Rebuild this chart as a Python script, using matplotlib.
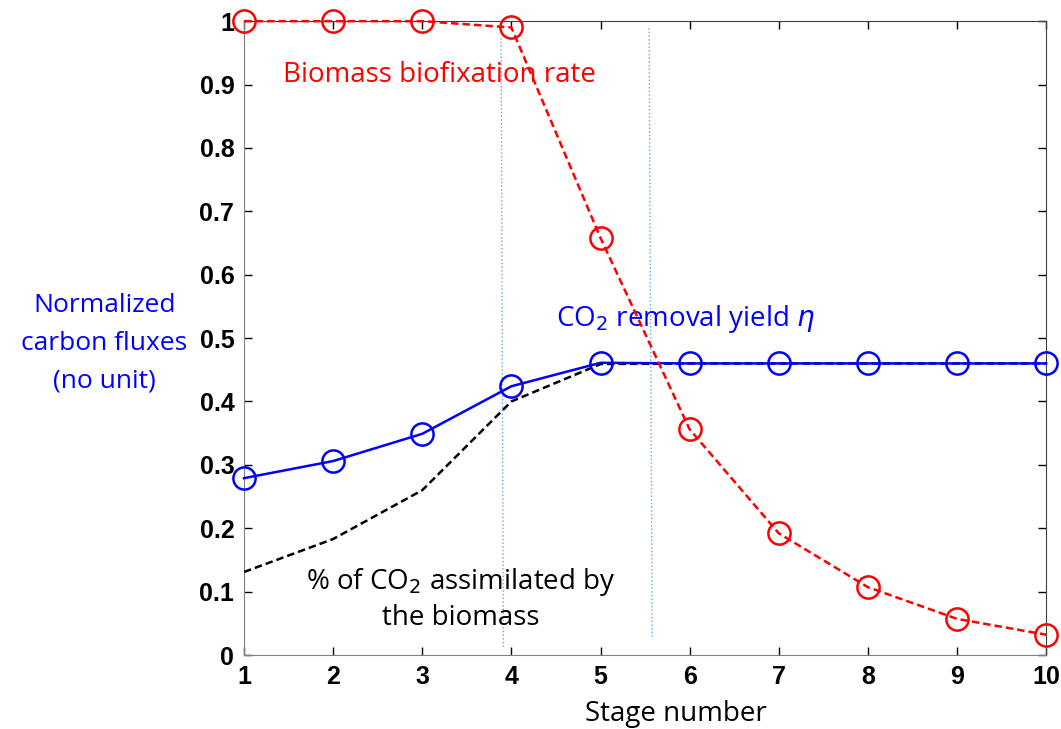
import matplotlib
matplotlib.use("Agg")
import matplotlib.pyplot as plt

# Data
stages = [1, 2, 3, 4, 5, 6, 7, 8, 9, 10]
biofixation = [1.0, 1.0, 1.0, 0.99, 0.658, 0.356, 0.192, 0.107, 0.057, 0.032]
removal_yield = [0.279, 0.306, 0.349, 0.424, 0.461, 0.46, 0.46, 0.46, 0.46, 0.46]
assimilated = [0.131, 0.183, 0.26, 0.40, 0.459, 0.46, 0.46, 0.46, 0.46, 0.46]

# light blue guide lines (x top, y top, x bottom, y bottom)
guide1 = ([3.885, 3.91], [0.973, 0.013])
guide2 = ([5.545, 5.58], [0.989, 0.028])

fig = plt.figure(figsize=(10.61, 7.29), dpi=100)
ax = fig.add_axes([0.23, 0.1015, 0.756, 0.8695])

ax.plot(*guide1, color="#5fa8e0", linestyle=":", linewidth=1.0)
ax.plot(*guide2, color="#5fa8e0", linestyle=":", linewidth=1.0)

ax.plot(stages, assimilated, color="black", linestyle="--", linewidth=1.8,
        dashes=(3, 1.6), zorder=3)
ax.plot(stages, removal_yield, color="blue", linestyle="-", linewidth=1.8,
        marker="o", markersize=16, markerfacecolor="none", markeredgewidth=1.8,
        zorder=4, clip_on=False)
ax.plot(stages, biofixation, color="red", linestyle="--", linewidth=1.8,
        dashes=(3, 1.6), marker="o", markersize=16, markerfacecolor="none",
        markeredgewidth=1.8, zorder=5, clip_on=False)

ax.set_xlim(1, 10)
ax.set_ylim(0, 1)
ax.set_xticks(stages)
ax.set_yticks([i / 10 for i in range(11)])
ax.set_yticklabels(["0"] + ["%.1f" % (i / 10) for i in range(1, 10)] + ["1"])

for lab in ax.get_xticklabels() + ax.get_yticklabels():
    lab.set_fontfamily("Liberation Sans")
    lab.set_fontweight("bold")
    lab.set_fontsize(18)

ax.tick_params(direction="in", length=6, top=True, right=True, width=1, pad=7)
ax.spines["left"].set_color("#808080")
ax.spines["bottom"].set_color("#808080")
ax.spines["top"].set_color("#404040")
ax.spines["right"].set_color("#404040")

font = "Open Sans"
ax.text(1.44, 0.915, "Biomass biofixation rate", color="red", fontsize=20,
        family=font, va="center", ha="left")
ax.text(4.5, 0.53, r"CO$_2$ removal yield $\eta$", color="blue", fontsize=20,
        family=font, va="center", ha="left")
ax.text(3.43, 0.088, "% of CO$_2$ assimilated by\nthe biomass", color="black",
        fontsize=20, family=font, va="center", ha="center", linespacing=1.3)
fig.text(0.0985, 0.529, "Normalized\ncarbon fluxes\n(no unit)", color="blue",
         fontsize=19, family=font, ha="center", va="center", linespacing=1.68)
ax.set_xlabel("Stage number", fontsize=20, family=font)
ax.xaxis.set_label_coords(0.539, -0.071)

fig.savefig("out.png", dpi=100)
